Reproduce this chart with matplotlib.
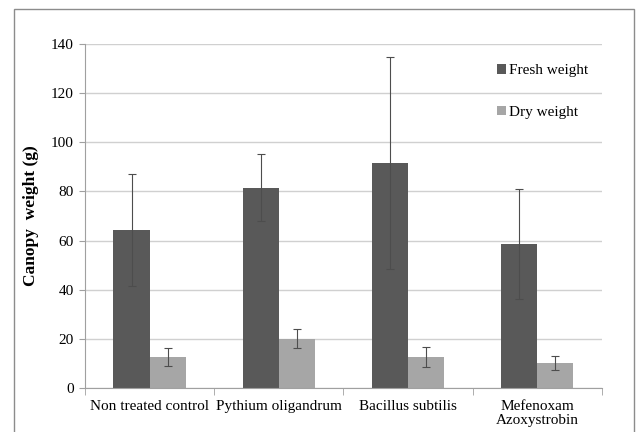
import matplotlib.pyplot as plt
import numpy as np
from matplotlib.patches import Rectangle

plt.rcParams['font.family'] = ['Liberation Serif', 'DejaVu Serif']

categories = ["Non treated control", "Pythium oligandrum", "Bacillus subtilis", "Mefenoxam\nAzoxystrobin"]
fresh = [64.3, 81.6, 91.5, 58.7]
fresh_err = [23.0, 13.8, 43.2, 22.5]
dry = [12.5, 20.0, 12.5, 10.2]
dry_err = [3.5, 3.9, 4.0, 2.9]

fig = plt.figure(figsize=(6.41, 4.32), dpi=100)
ax = fig.add_axes([0.1326, 0.1025, 0.8064, 0.795])

# figure border
fig.patches.append(Rectangle((0.022, -0.02), 0.967, 0.9985, transform=fig.transFigure,
                             fill=False, edgecolor="#8c8c8c", linewidth=1.0))

x = np.arange(len(categories))
w = 0.28
ekw = dict(ecolor="#4d4d4d", elinewidth=0.8, capsize=3, capthick=0.8)
ax.bar(x - w / 2, fresh, w, color="#595959", label="Fresh weight", yerr=fresh_err, error_kw=ekw, zorder=2)
ax.bar(x + w / 2, dry, w, color="#a6a6a6", label="Dry weight", yerr=dry_err, error_kw=ekw, zorder=2)

ax.set_xlim(-0.5, 3.5)
ax.set_ylim(0, 140)
ax.set_yticks(range(0, 141, 20))
ax.yaxis.grid(True, color="#d0d0d0", linewidth=1.0, zorder=0)
ax.set_axisbelow(True)

# category boundary ticks like Excel
ax.set_xticks(x)
ax.set_xticklabels(categories, fontsize=11, linespacing=1.1)
ax.set_xticks(np.arange(-0.5, 4.0, 1.0), minor=True)
ax.tick_params(axis="x", which="major", length=0, pad=9)
ax.tick_params(axis="x", which="minor", length=5, color="#a0a0a0", direction="out")
ax.tick_params(axis="y", length=4, color="#a0a0a0", labelsize=11, pad=4)

for s in ["top", "right"]:
    ax.spines[s].set_visible(False)
for s in ["left", "bottom"]:
    ax.spines[s].set_color("#a0a0a0")

ax.set_ylabel("Canopy  weight (g)", fontsize=12.5, fontweight="bold", labelpad=9)

leg = ax.legend(loc="upper right", bbox_to_anchor=(1.0, 0.982), frameon=False, fontsize=11,
                handlelength=0.6, handleheight=0.6, handletextpad=0.2, labelspacing=1.85)

fig.savefig("out.png", dpi=100)
